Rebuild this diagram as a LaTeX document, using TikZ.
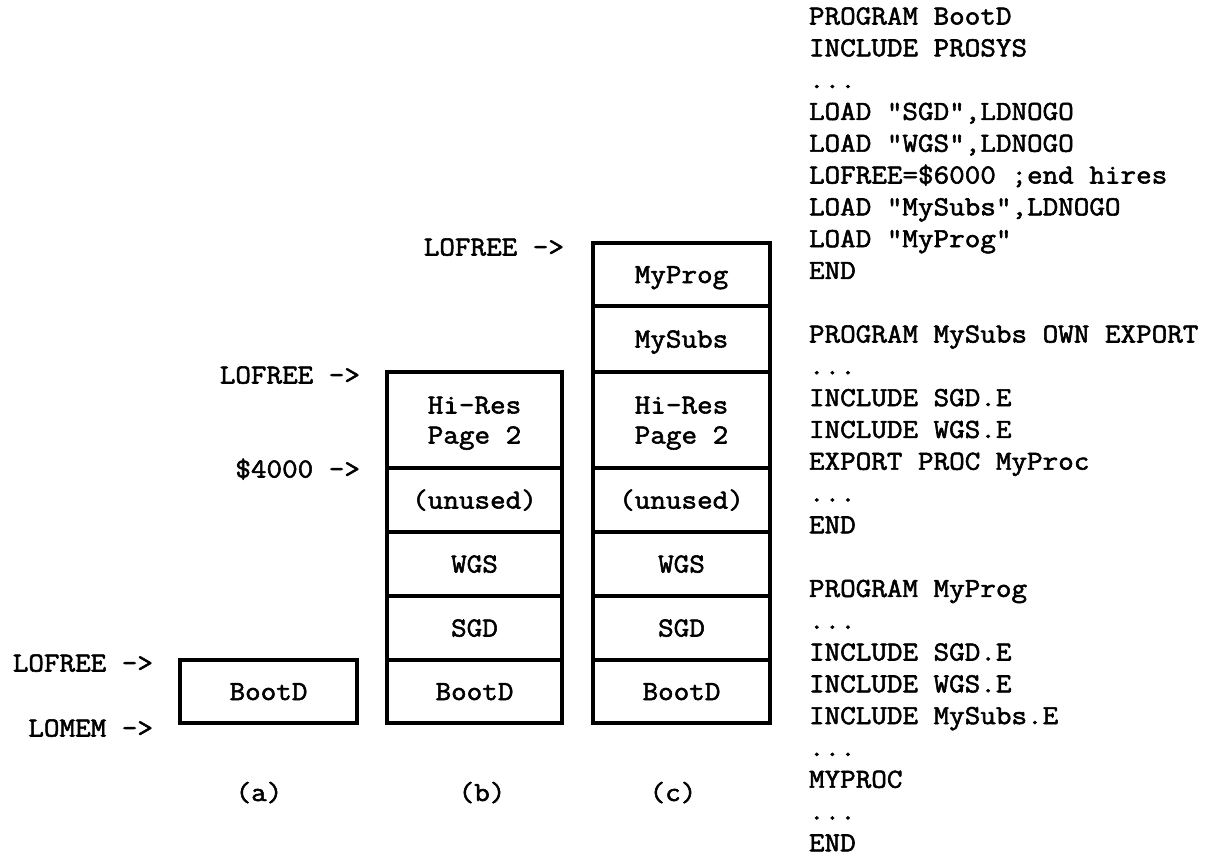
\documentclass[tikz,border=0pt]{standalone}
\usepackage{fontspec}
\newfontfamily\tw{Latin Modern Mono}[FakeStretch=1.1,FakeBold=2]
\newcommand{\twsize}{\tw\fontsize{27.5pt}{32pt}\selectfont}
\begin{document}
\begin{tikzpicture}[x=1pt,y=-1pt]
\tikzset{
  cell/.style={draw, line width=3.5pt, line join=miter, inner sep=0pt, outer sep=0pt,
    text height=17pt, text depth=0pt, font=\twsize},
  txt/.style={inner sep=0pt, outer sep=0pt, text height=17pt, text depth=0pt, font=\twsize},
  ptr/.style={inner sep=0pt, outer sep=0pt, anchor=base east, font=\twsize},
  code/.style={inner sep=0pt, outer sep=0pt, anchor=base west, font=\twsize},
}
\useasboundingbox (0,0) rectangle (1224,857);

% (a) memory after loading BootD
\node[cell, minimum width=177pt, minimum height=63pt] (aboot) at (268.5,691.5) {BootD};

% (b) after SGD and WGS, with hi-res page 2 reserved
\node[cell, minimum width=175pt, minimum height=96pt] (bhr)   at (474.5,420) {};
\node[cell, minimum width=175pt, minimum height=64pt] (bun)   at (474.5,500) {(unused)};
\node[cell, minimum width=175pt, minimum height=64pt] (bwgs)  at (474.5,564) {WGS};
\node[cell, minimum width=175pt, minimum height=64pt] (bsgd)  at (474.5,628) {SGD};
\node[cell, minimum width=175pt, minimum height=63pt] (bboot) at (474.5,691.5) {BootD};
\node[txt] (bhr1) at ([yshift=15pt]bhr.center) {Hi-Res};
\node[txt] (bhr2) at ([yshift=-15pt]bhr.center) {Page 2};

% (c) after MySubs and MyProg
\node[cell, minimum width=177pt, minimum height=63pt] (cprog) at (681.5,274.5) {MyProg};
\node[cell, minimum width=177pt, minimum height=66pt] (csubs) at (681.5,339) {MySubs};
\node[cell, minimum width=177pt, minimum height=96pt] (chr)   at (681.5,420) {};
\node[cell, minimum width=177pt, minimum height=64pt] (cun)   at (681.5,500) {(unused)};
\node[cell, minimum width=177pt, minimum height=64pt] (cwgs)  at (681.5,564) {WGS};
\node[cell, minimum width=177pt, minimum height=64pt] (csgd)  at (681.5,628) {SGD};
\node[cell, minimum width=177pt, minimum height=63pt] (cboot) at (681.5,691.5) {BootD};
\node[txt] (chr1) at ([yshift=15pt]chr.center) {Hi-Res};
\node[txt] (chr2) at ([yshift=-15pt]chr.center) {Page 2};

% pointers
\node[ptr] (pa1) at (153,671.5) {LOFREE ->};
\node[ptr] (pa2) at (153,736.5) {LOMEM ->};
\node[ptr] (pb1) at (360,383.5) {LOFREE ->};
\node[ptr] (pb2) at (360,477.5) {\$4000 ->};
\node[ptr] (pc1) at (564,255.5) {LOFREE ->};

% captions
\node[code, anchor=base] (capa) at (259,801) {(a)};
\node[code, anchor=base] (capb) at (482,801) {(b)};
\node[code, anchor=base] (capc) at (673,801) {(c)};

% program listings
\foreach \i/\t in {
  0/{PROGRAM BootD},
  1/{INCLUDE PROSYS},
  2/{...},
  3/{LOAD "SGD",LDNOGO},
  4/{LOAD "WGS",LDNOGO},
  5/{LOFREE=\$6000 ;end hires},
  6/{LOAD "MySubs",LDNOGO},
  7/{LOAD "MyProg"},
  8/{END},
  10/{PROGRAM MySubs OWN EXPORT},
  11/{...},
  12/{INCLUDE SGD.E},
  13/{INCLUDE WGS.E},
  14/{EXPORT PROC MyProc},
  15/{...},
  16/{END},
  18/{PROGRAM MyProg},
  19/{...},
  20/{INCLUDE SGD.E},
  21/{INCLUDE WGS.E},
  22/{INCLUDE MySubs.E},
  23/{...},
  24/{MYPROC},
  25/{...},
  26/{END}}
  \node[code] (ln\i) at (809,24.5+31.8*\i) {\t};
\end{tikzpicture}
\end{document}
